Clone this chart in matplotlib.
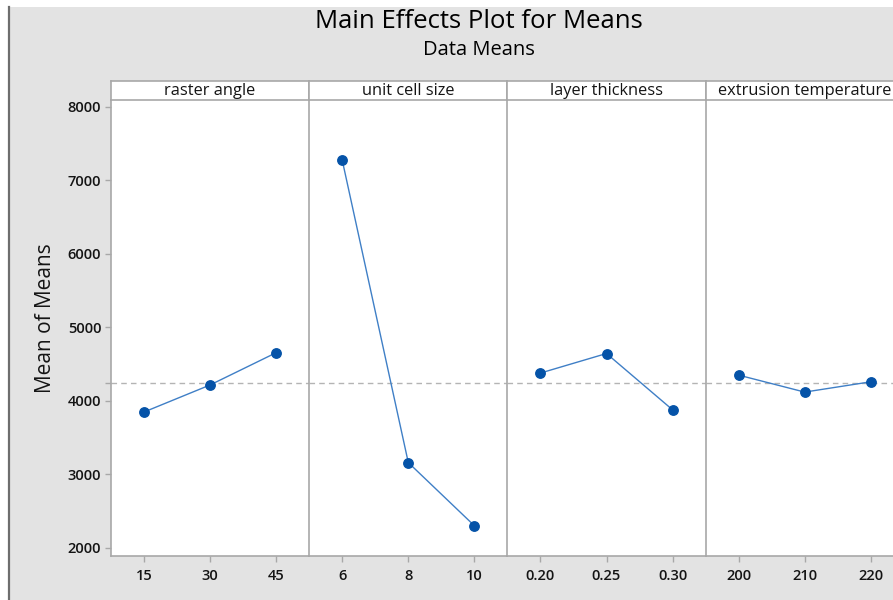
import matplotlib
matplotlib.use("Agg")
import matplotlib.pyplot as plt
from matplotlib.lines import Line2D
from matplotlib.patches import Rectangle

plt.rcParams["font.family"] = ["Open Sans", "DejaVu Sans"]

# factor names, level labels and the mean response at each level
FACTORS = ["raster angle", "unit cell size", "layer thickness", "extrusion temperature"]
LEVELS = [
    ["15", "30", "45"],
    ["6", "8", "10"],
    ["0.20", "0.25", "0.30"],
    ["200", "210", "220"],
]
MEANS = [
    [3850, 4218, 4657],
    [7276, 3162, 2303],
    [4380, 4646, 3880],
    [4352, 4121, 4261],
]
GRAND_MEAN = 4240
Y_TICKS = [2000, 3000, 4000, 5000, 6000, 7000, 8000]

BG = "#e3e3e3"
FRAME = "#a8a8a8"
POINT = "#0553a8"
LINE = "#3f7fc6"
TEXT = "#141414"

W, H = 893, 600
fig = plt.figure(figsize=(W / 100, H / 100), dpi=100)
fig.patch.set_facecolor("white")

# grey panel background with dark left border
fig.patches.append(Rectangle((10 / W, 0), 1, 1 - 7 / H, transform=fig.transFigure,
                             facecolor=BG, edgecolor="none", zorder=-10))
fig.add_artist(Line2D([9 / W, 9 / W], [0, 1 - 7 / H], transform=fig.transFigure,
                      color="#6e6e6e", linewidth=1.6))

left0 = 111
panel_w = 198.2
bottom = 1 - 556 / H
top = 1 - 100 / H
strip_top = 1 - 81 / H

axes = []
for i, (name, levels, vals) in enumerate(zip(FACTORS, LEVELS, MEANS)):
    x0 = (left0 + i * panel_w) / W
    ax = fig.add_axes([x0, bottom, panel_w / W, top - bottom])
    ax.set_facecolor("white")
    xs = list(range(len(levels)))
    ax.axhline(GRAND_MEAN, color="#b4b4b4", linestyle=(0, (4, 3)), linewidth=1.0, zorder=1)
    ax.plot(xs, vals, color=LINE, linewidth=1.0, zorder=2)
    ax.plot(xs, vals, linestyle="none", marker="o", markersize=6.8,
            color=POINT, markeredgecolor=POINT, zorder=3)
    ax.set_xlim(-0.5, len(levels) - 0.5)
    ax.set_ylim(1891, 8095)
    ax.set_xticks(xs)
    ax.set_xticklabels(levels, fontweight="semibold")
    for side in ["top", "right"]:
        ax.spines[side].set_visible(False)
    for side in ["left", "bottom"]:
        ax.spines[side].set_color(FRAME)
        ax.spines[side].set_linewidth(1.2)
    ax.tick_params(axis="x", direction="out", length=4, width=1, color=FRAME,
                   labelsize=10.5, labelcolor=TEXT, pad=5)
    if i == 0:
        ax.set_yticks(Y_TICKS)
        ax.set_yticklabels([str(v) for v in Y_TICKS], fontweight="semibold")
        ax.set_yticks([GRAND_MEAN], minor=True)
        ax.tick_params(axis="y", which="major", direction="out", length=4, width=1,
                       color=FRAME, labelsize=10.5, labelcolor=TEXT, pad=3)
        ax.tick_params(axis="y", which="minor", direction="out", length=4, width=1,
                       color=FRAME)
        ax.set_ylabel("Mean of Means", fontsize=15, color=TEXT)
        ax.yaxis.set_label_coords(-0.28, 0.522)
    else:
        ax.set_yticks([])

    # header strip with the factor name
    sax = fig.add_axes([x0, top, panel_w / W, strip_top - top])
    sax.set_facecolor("white")
    sax.set_xticks([])
    sax.set_yticks([])
    for side in sax.spines.values():
        side.set_color(FRAME)
        side.set_linewidth(1.2)
    sax.text(0.5, 0.45, name, ha="center", va="center", fontsize=11.8,
             color=TEXT, transform=sax.transAxes)
    axes.append(ax)

fig.text(479 / W, 1 - 22 / H, "Main Effects Plot for Means", ha="center", va="center",
         fontsize=18.5, color="black", fontweight="medium")
fig.text(479 / W, 1 - 50 / H, "Data Means", ha="center", va="center",
         fontsize=14.5, color="black", fontweight="medium")

fig.savefig("out.png", dpi=100, facecolor=fig.get_facecolor())
